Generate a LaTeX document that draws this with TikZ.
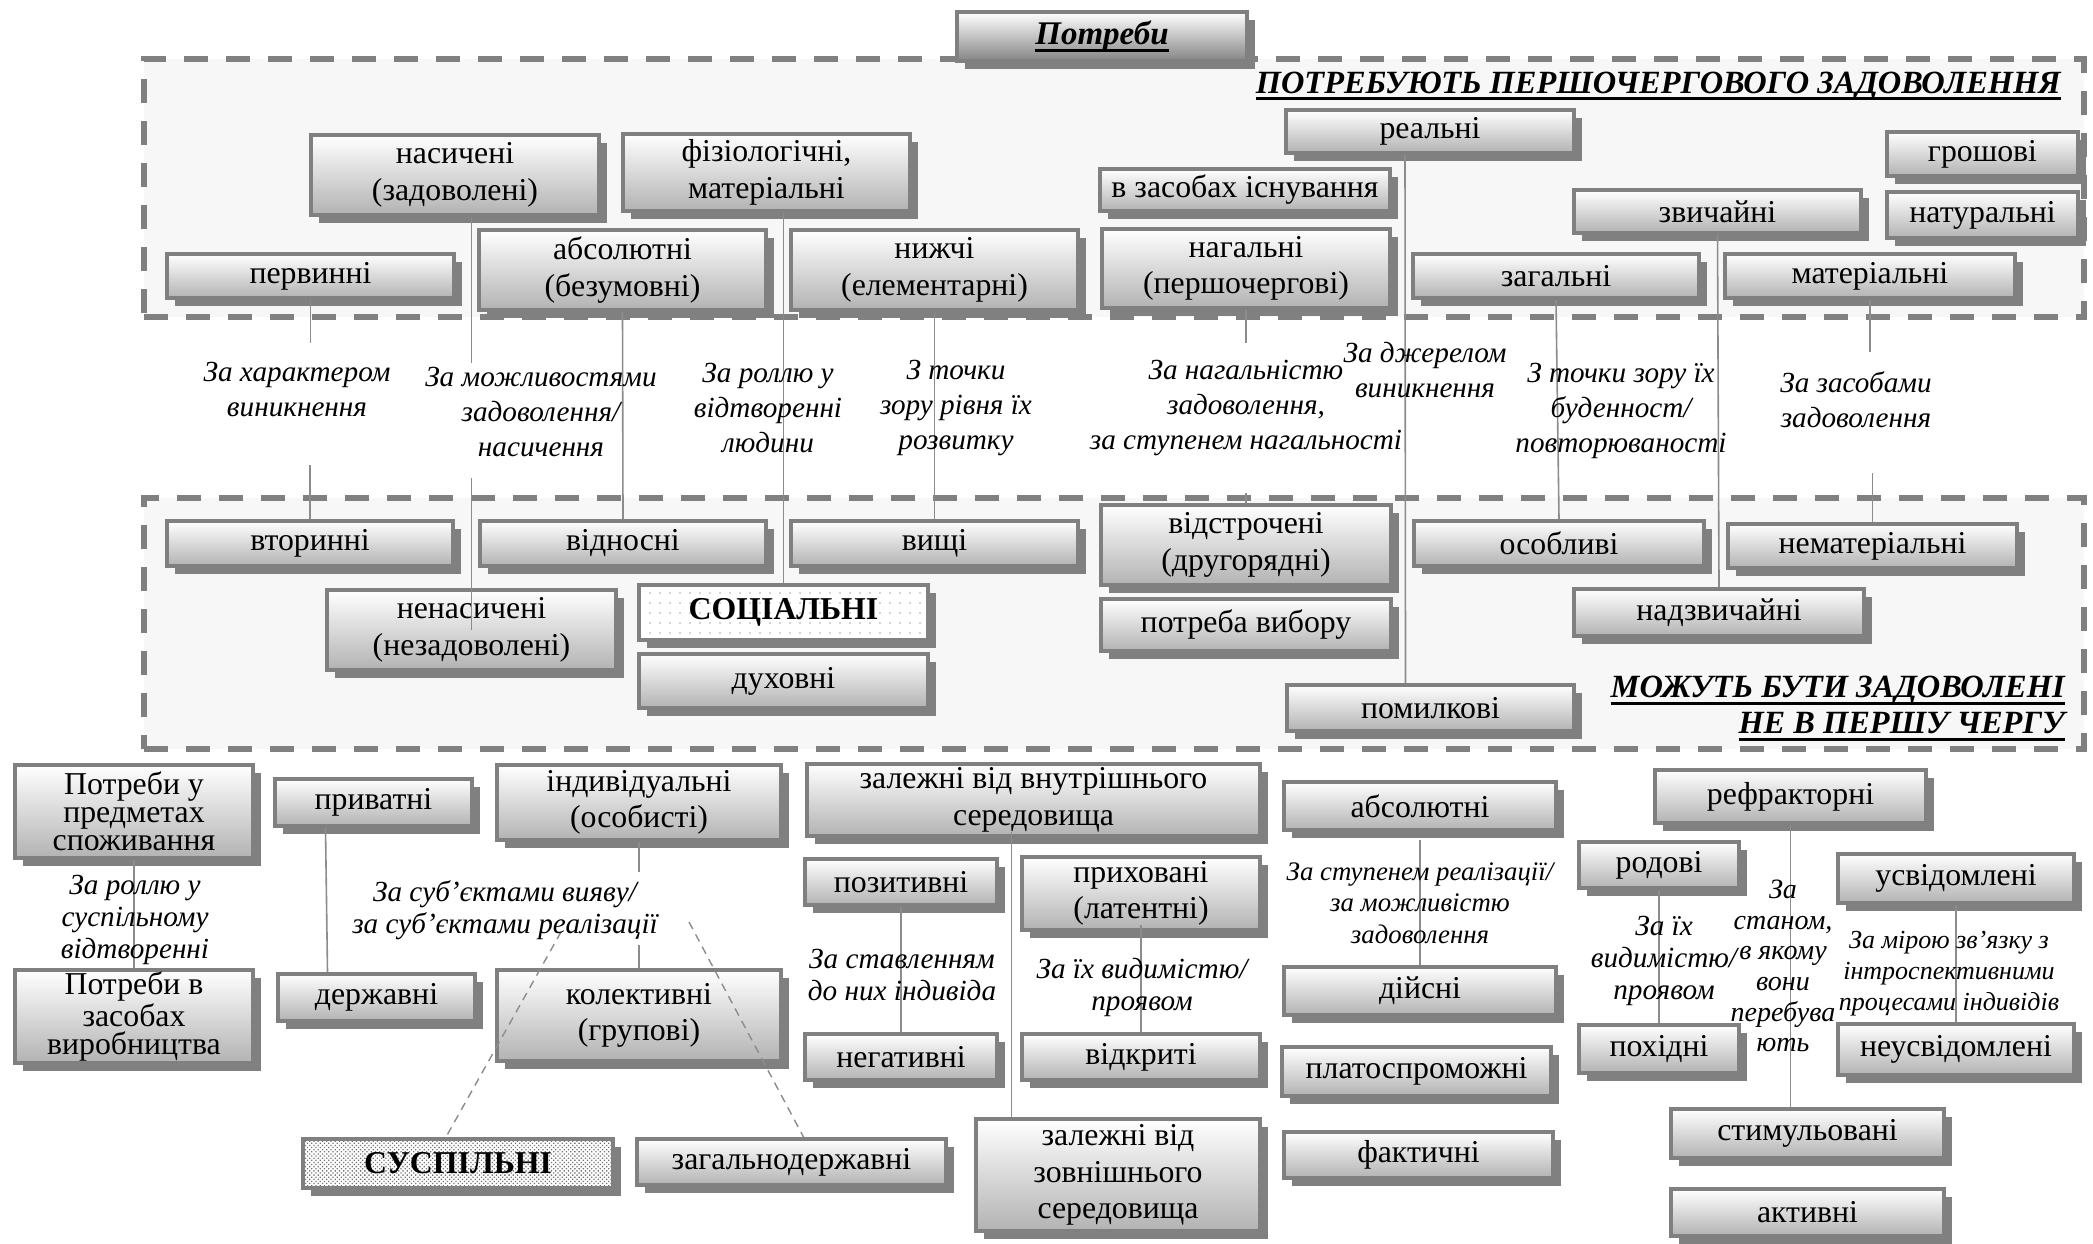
\documentclass[tikz,border=0pt]{standalone}
\usepackage{fontspec}
\setmainfont{Liberation Serif}
\usetikzlibrary{shadows,patterns,patterns.meta,calc}
\newcommand\myul[1]{\setbox0=\hbox{#1}\leavevmode\rlap{\rule[-3.5pt]{\wd0}{1.5pt}}\box0}
\newcommand\bx[7]{\node[#1,minimum width={(#5-#3-4.4)*0.5pt},minimum height={(#6-#4-4.4)*0.5pt}] (#2) at ({(#3+#5)/2},{(#4+#6)/2}) {#7};}
\newcommand\lb[5][]{\node[lbl,#1] (#2) at (#3,#4) {#5};}
\tikzset{
  boxbase/.style={draw=black!50, line width=2.2pt, align=center, inner sep=0pt,
    drop shadow={shadow xshift=4pt, shadow yshift=-4pt, opacity=1, fill=black!50},
    font=\fontsize{15.9}{18.3}\selectfont},
  box/.style={boxbase, top color=white, bottom color=black!30},
  titlebox/.style={boxbase, top color=white, bottom color=black!48, font=\bfseries\itshape\fontsize{16.5}{18}\selectfont},
  socbox/.style={boxbase, preaction={fill=white}, pattern={Dots[distance=5pt, radius=0.4pt]}, pattern color=black!35, font=\bfseries\fontsize{15.9}{18.3}\selectfont},
  suspbox/.style={boxbase, preaction={fill=white}, pattern={Dots[distance=1.5pt, radius=0.45pt, angle=45]}, pattern color=black!55, font=\bfseries\fontsize{15.9}{18.3}\selectfont},
  tight/.style={font=\fontsize{15.9}{14}\selectfont},
  lbl/.style={align=center, inner sep=0pt, font=\itshape\fontsize{14.6}{17.5}\selectfont},
  lbl2/.style={font=\itshape\fontsize{14.6}{16}\selectfont},
  lbl3/.style={font=\itshape\fontsize{14}{15.3}\selectfont},
  lbl4/.style={font=\itshape\fontsize{13.4}{15.75}\selectfont},
  lbl5/.style={font=\itshape\fontsize{13}{15.5}\selectfont},
  conn/.style={draw=black!45, line width=0.8pt},
  dconn/.style={draw=black!45, line width=0.7pt, dash pattern=on 4pt off 3pt},
  band/.style={draw=black!50, line width=3pt, dash pattern=on 12pt off 9pt, fill=black!3, inner sep=0pt},
  hd/.style={inner sep=0pt, font=\bfseries\itshape\fontsize{16.2}{18}\selectfont},
}
\begin{document}
\begin{tikzpicture}[x=0.5pt,y=-0.5pt]
\useasboundingbox (0,0) rectangle (2093,1243);
\fill[white] (0,0) rectangle (2093,1243);
% bands
\node[band, minimum width={(2087-141-6)*0.5pt}, minimum height={(320-56-6)*0.5pt}] (band1) at ({(141+2087)/2},{(56+320)/2}) {};
\node[band, minimum width={(2087-141-6)*0.5pt}, minimum height={(752-495-6)*0.5pt}] (band2) at ({(141+2087)/2},{(495+752)/2}) {};
% title
\bx{titlebox}{potr}{955}{10}{1249}{63}{\myul{Потреби}}
\node[hd, anchor=base east] (h1) at (2061,93) {\myul{ПОТРЕБУЮТЬ ПЕРШОЧЕРГОВОГО ЗАДОВОЛЕННЯ}};
\node[hd, anchor=north east, align=right] (h2) at (2065,676) {\myul{МОЖУТЬ БУТИ ЗАДОВОЛЕНІ}\\\myul{НЕ В ПЕРШУ ЧЕРГУ}};
% top band boxes
\bx{box}{nas}{309}{133}{601}{217}{насичені\\(задоволені)}
\bx{box}{fiz}{621}{132}{912}{213}{фізіологічні,\\матеріальні}
\bx{box}{perv}{165}{252}{456}{300}{первинні}
\bx{box}{abs1}{477}{228}{768}{312}{абсолютні\\(безумовні)}
\bx{box}{nyzh}{789}{228}{1080}{312}{нижчі\\(елементарні)}
\bx{box}{vzas}{1098}{167}{1392}{213}{в засобах існування}
\bx{box}{nag}{1100}{227}{1392}{310}{нагальні\\(першочергові)}
\bx{box}{real}{1284}{108}{1576}{155}{реальні}
\bx{box}{zvy}{1572}{188}{1863}{235}{звичайні}
\bx{box}{zag}{1411}{252}{1701}{300}{загальні}
\bx{box}{mat}{1723}{252}{2017}{300}{матеріальні}
\bx{box}{grosh}{1885}{130}{2080}{178}{грошові}
\bx{box}{nat}{1885}{190}{2080}{240}{натуральні}
% bottom band boxes
\bx{box}{vtor}{165}{519}{455}{568}{вторинні}
\bx{box}{vidn}{478}{519}{768}{568}{відносні}
\bx{box}{vyshchi}{789}{519}{1080}{568}{вищі}
\bx{box}{vidstr}{1099}{503}{1393}{587}{відстрочені\\(другорядні)}
\bx{box}{osob}{1412}{519}{1706}{568}{особливі}
\bx{box}{nemat}{1726}{522}{2019}{570}{нематеріальні}
\bx{box}{nenas}{325}{588}{618}{672}{ненасичені\\(незадоволені)}
\bx{socbox}{soc}{637}{583}{930}{642}{СОЦІАЛЬНІ}
\bx{box}{dukh}{637}{652}{930}{710}{духовні}
\bx{box}{vybor}{1099}{597}{1393}{653}{потреба вибору}
\bx{box}{nadzv}{1572}{587}{1866}{638}{надзвичайні}
\bx{box}{pomyl}{1285}{683}{1576}{733}{помилкові}
% lower part
\bx{box,tight}{pspozh}{13}{763}{255}{860}{Потреби у\\предметах\\споживання}
\bx{box,tight}{pvyr}{13}{968}{255}{1065}{Потреби в\\засобах\\виробництва}
\bx{box}{pryv}{273}{777}{474}{828}{приватні}
\bx{box}{derzh}{276}{972}{477}{1023}{державні}
\bx{box}{indyv}{495}{763}{783}{842}{індивідуальні\\(особисті)}
\bx{box}{kolekt}{495}{968}{783}{1063}{колективні\\(групові)}
\bx{suspbox}{susp}{301}{1137}{615}{1190}{СУСПІЛЬНІ}
\bx{box}{zagdz}{635}{1137}{948}{1187}{загальнодержавні}
\bx{box}{vnutr}{805}{762}{1262}{838}{залежні від внутрішнього\\середовища}
\bx{box}{pozyt}{803}{857}{999}{907}{позитивні}
\bx{box}{prykh}{1020}{855}{1262}{932}{приховані\\(латентні)}
\bx{box}{neg}{803}{1032}{999}{1082}{негативні}
\bx{box}{vidkr}{1020}{1032}{1262}{1082}{відкриті}
\bx{box}{zovn}{974}{1117}{1262}{1233}{залежні від\\зовнішнього\\середовища}
\bx{box}{abs2}{1282}{780}{1558}{832}{абсолютні}
\bx{box}{diisni}{1282}{965}{1558}{1017}{дійсні}
\bx{box}{plat}{1280}{1045}{1553}{1098}{платоспроможні}
\bx{box}{fakt}{1282}{1130}{1555}{1180}{фактичні}
\bx{box}{refr}{1653}{768}{1928}{825}{рефракторні}
\bx{box}{rod}{1577}{840}{1741}{890}{родові}
\bx{box}{pokh}{1577}{1023}{1741}{1075}{похідні}
\bx{box}{usv}{1836}{852}{2076}{905}{усвідомлені}
\bx{box}{neusv}{1836}{1022}{2076}{1077}{неусвідомлені}
\bx{box}{stym}{1669}{1107}{1946}{1160}{стимульовані}
\bx{box}{aktyv}{1669}{1187}{1946}{1238}{активні}
% gap coordinates
\coordinate (g1a) at (0,343); \coordinate (g1b) at (0,465);
\coordinate (g2a) at (0,363); \coordinate (g2b) at (0,478);
\coordinate (g6a) at (0,343); \coordinate (g6b) at (0,493);
\coordinate (g10a) at (0,352); \coordinate (g10b) at (0,473);
\coordinate (g13a) at (0,872); \coordinate (g13b) at (0,945);
\coordinate (dl) at (561,932); \coordinate (dr) at (689,922);
% connectors
\draw[conn] (perv.south) -- (perv.south |- g1a);
\draw[conn] (vtor.north |- g1b) -- (vtor.north);
\draw[conn] (nenas.center |- nas.south) -- (nenas.center |- g2a);
\draw[conn] (nenas.center |- g2b) -- (nenas.center);
\draw[conn] (abs1.south) -- (vidn.north);
\draw[conn] (soc.north |- fiz.south) -- (soc.north);
\draw[conn] (nyzh.south) -- (vyshchi.north);
\draw[conn] (nag.south) -- (nag.south |- g6a);
\draw[conn] (vidstr.north |- g6b) -- (vidstr.north);
\draw[conn] ([xshift=-12.5pt]real.south) -- ([xshift=-12.5pt]pomyl.north);
\draw[conn] (zag.south) -- (osob.north);
\draw[conn] (zvy.south) -- (nadzv.north);
\draw[conn] (mat.south) -- (mat.south |- g10a);
\draw[conn] (nemat.north |- g10b) -- (nemat.north);
\draw[conn] (pspozh.south) -- (pvyr.north);
\draw[conn] ([xshift=-24pt]pryv.south) -- ([xshift=-24.5pt]derzh.north);
\draw[conn] (indyv.south) -- (indyv.south |- g13a);
\draw[conn] (kolekt.north |- g13b) -- (kolekt.north);
\draw[dconn] (dl) -- ([xshift=-6pt]susp.north);
\draw[dconn] (dr) -- ([xshift=6pt]zagdz.north);
\draw[conn] ($(vnutr.south)+(-22,-6)$) -- ($(vnutr.south |- zovn.north)+(-22,0)$);
\draw[conn] (pozyt.south) -- (neg.north);
\draw[conn] ([yshift=3.5pt]prykh.south) -- (vidkr.north);
\draw[conn] ([yshift=-4pt]abs2.south) -- (diisni.north);
\draw[conn] (refr.south) -- (refr.south |- stym.north);
\draw[conn] (rod.south) -- (pokh.north);
\draw[conn] (usv.south) -- (neusv.north);
% labels
\lb{lChar}{297}{390}{За характером\\виникнення}
\lb{lMozh}{541}{412}{За можливостями\\задоволення/\\насичення}
\lb{lRol}{768}{408}{За роллю у\\відтворенні\\людини}
\lb{lToch}{956}{408}{З точки\\зору рівня їх\\розвитку}
\lb{lNag}{1246}{408}{За нагальністю\\задоволення,\\за ступенем нагальності}
\lb{lDzh}{1425}{370}{За джерелом\\виникнення}
\lb{lBud}{1621}{411}{З точки зору їх\\буденност/\\повторюваності}
\lb{lZas}{1856}{400}{За засобами\\задоволення}
\lb[lbl2]{lSusp}{135}{920}{За роллю у\\суспільному\\відтворенні}
\lb[lbl2]{lSub}{505}{910}{За суб’єктами вияву/\\за суб'єктами реалізації}
\lb[lbl2]{lStav}{902}{975}{За ставленням\\до них індивіда}
\lb[lbl2]{lVyd}{1142}{987}{За їх видимістю/\\проявом}
\lb[lbl4]{lStup}{1420}{903}{За ступенем реалізації/\\за можливістю\\задоволення}
\lb[lbl2]{lVydd}{1664}{961}{За їх\\видимістю/\\проявом}
\lb[lbl3]{lStan}{1783}{966}{За\\станом,\\в якому\\вони\\перебува\\ють}
\lb[lbl5]{lMir}{1949}{974}{За мірою зв'язку з\\інтроспективними\\процесами індивідів}
\end{tikzpicture}
\end{document}
